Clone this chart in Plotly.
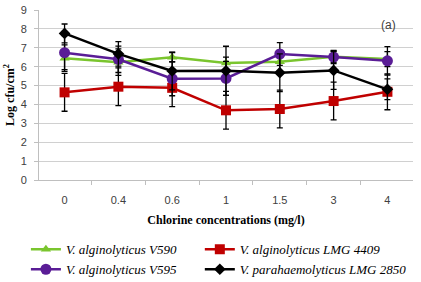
import plotly.graph_objects as go

categories = ["0", "0.4", "0.6", "1", "1.5", "3", "4"]

v590 = [6.45, 6.24, 6.50, 6.20, 6.26, 6.53, 6.40]
v590_err = [0.7, 0.7, 0.25, 0.3, 0.6, 0.3, 0.4]

lmg4409 = [4.64, 4.94, 4.88, 3.69, 3.76, 4.18, 4.67]
lmg4409_err = [1.0, 1.0, 1.0, 1.0, 1.0, 1.0, 0.95]

v595 = [6.74, 6.39, 5.36, 5.38, 6.67, 6.51, 6.31]
v595_err = [0.9, 0.7, 0.9, 0.9, 0.6, 0.35, 0.75]

lmg2850 = [7.76, 6.68, 5.77, 5.78, 5.68, 5.80, 4.80]
lmg2850_err = [0.5, 0.65, 1.0, 1.3, 1.0, 1.0, 0.55]

series = [
    ("V. alginolyticus V590", v590, v590_err, "#7AC52E", "triangle-up", 9, "legend"),
    ("V. alginolyticus LMG 4409", lmg4409, lmg4409_err, "#C00000", "square", 10, "legend2"),
    ("V. alginolyticus V595", v595, v595_err, "#5A1D96", "circle", 11, "legend"),
    ("V. parahaemolyticus LMG 2850", lmg2850, lmg2850_err, "#000000", "diamond", 9, "legend2"),
]

fig = go.Figure()
for name, vals, errs, color, sym, size, leg in series:
    fig.add_trace(go.Scatter(
        x=categories, y=vals, name="<i>" + name + "</i>", mode="lines+markers",
        line=dict(color=color, width=2.5),
        marker=dict(symbol=sym, size=size, color=color),
        error_y=dict(type="data", array=errs, visible=True, color="#000000",
                     thickness=1.3, width=3),
        legend=leg,
    ))

legend_common = dict(orientation="v", yanchor="top", xanchor="left",
                     font=dict(family="Liberation Serif", size=13, color="#000000"),
                     tracegroupgap=0, bgcolor="rgba(0,0,0,0)", itemwidth=30)

fig.update_layout(
    width=421, height=282,
    margin=dict(l=39, r=8, t=10, b=102, autoexpand=False),
    paper_bgcolor="white", plot_bgcolor="white",
    showlegend=True,
    legend=dict(x=-0.035, y=-0.32, **legend_common),
    legend2=dict(x=0.43, y=-0.32, **legend_common),
    font=dict(family="Liberation Sans", size=11, color="#404040"),
    annotations=[dict(text="(a)", x=0.959, y=8.2, xref="paper", yref="y", showarrow=False,
                      font=dict(family="Liberation Sans", size=12, color="#404040"))],
)

fig.update_xaxes(
    type="category", showgrid=False, showline=True, linecolor="#BFBFBF", linewidth=1,
    ticks="outside", tickson="boundaries", ticklen=4, tickcolor="#BFBFBF",
    ticklabelstandoff=10,
    tickfont=dict(family="Liberation Sans", size=11, color="#404040"),
    title=dict(text="<b>Chlorine concentrations (mg/l)</b>", standoff=10,
               font=dict(family="Liberation Serif", size=12, color="#000000")),
)
fig.update_yaxes(
    range=[0, 9], dtick=1, showgrid=True, gridcolor="#D0D0D0", gridwidth=1,
    showline=True, linecolor="#BFBFBF", linewidth=1, zeroline=False,
    ticks="outside", ticklen=4, tickcolor="#BFBFBF",
    ticklabelstandoff=5,
    tickfont=dict(family="Liberation Sans", size=11, color="#404040"),
    title=dict(text="<b>Log cfu/cm<sup>2</sup></b>", standoff=3,
               font=dict(family="Liberation Serif", size=12, color="#000000")),
)

fig.write_html("out.html", config={"displayModeBar": False},
               post_script="document.body.style.margin='0';")
